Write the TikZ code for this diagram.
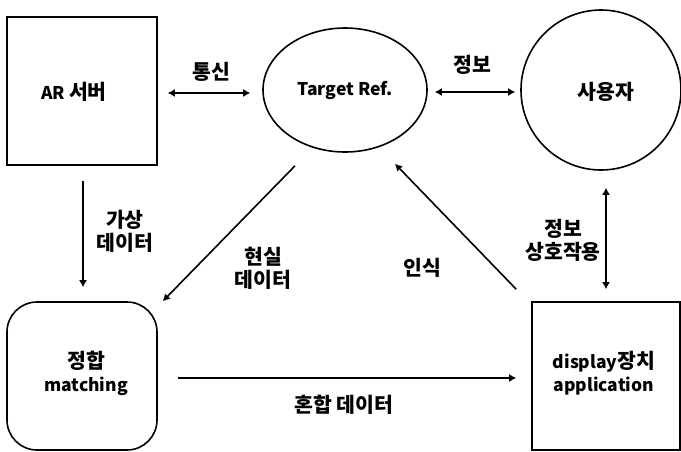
\documentclass[tikz,border=0pt]{standalone}
\usepackage{fontspec}
\setmainfont{Noto Sans CJK KR}
\newfontfamily\kr{Noto Sans CJK KR}[Scale=1.17]
\usetikzlibrary{shapes.geometric,arrows.meta}
\begin{document}
\begin{tikzpicture}[x=1pt,y=-1pt,
  every node/.style={font=\fontsize{17.5}{23}\selectfont\bfseries, align=center, inner sep=0pt},
  shape line/.style={draw=black, line width=1.6pt},
  boxnode/.style={shape line, rectangle, minimum width=150pt, minimum height=148pt},
  roundnode/.style={boxnode, rounded corners=30pt},
  ovalnode/.style={shape line, ellipse, minimum width=164pt, minimum height=124pt},
  roundcircle/.style={shape line, circle, minimum size=160pt},
  arr/.style={line width=1.6pt, -{Latex[length=7pt,width=8pt]}},
  darr/.style={line width=1.6pt, {Latex[length=7pt,width=8pt]}-{Latex[length=7pt,width=8pt]}},
  lbl/.style={}
]
\fill[white] (0,0) rectangle (681,451);
\useasboundingbox (0,0) rectangle (681,451);

% main blocks
\node[boxnode, label={[xshift=-8pt,yshift=-1pt]center:AR {\kr 서버}}] (ar) at (82,91) {};
\node[ovalnode] (target) at (345,90) {Target Ref.};
\node[roundcircle, label={[xshift=5pt,yshift=-2pt]center:{\kr 사용자}}] (user) at (601,90) {};
\node[roundnode, label={[xshift=4pt,yshift=3pt]center:{\kr 정합}\\matching}] (match) at (82,376) {};
\node[boxnode, minimum width=148pt, label={[xshift=-2pt,yshift=3pt]center:display{\kr 장치}\\application}] (disp) at (606,376) {};

% connectors
\draw[darr] ([xshift=10pt,yshift=-2pt]ar.east) -- ([xshift=-12pt,yshift=-3pt]target.west);
\draw[darr] ([xshift=7pt,yshift=-2pt]target.east) -- ([xshift=-5pt,yshift=-2pt]user.west);
\draw[arr] ([xshift=1pt,yshift=-15pt]ar.south) -- ([xshift=1pt,yshift=14pt]match.north);
\draw[arr] ([xshift=-50pt,yshift=-13pt]target.south) -- ([xshift=5pt]match.north east);
\draw[arr] ([xshift=-15pt,yshift=12pt]disp.north west) -- ([xshift=50pt,yshift=-11pt]target.south);
\draw[darr] ([xshift=5pt,yshift=-17pt]user.south) -- ([yshift=12pt]disp.north);
\draw[arr] ([xshift=20pt,yshift=-2pt]match.east) -- ([xshift=-15pt,yshift=-2pt]disp.west);

% connector labels
\node[lbl] (l1) at (211,72) {\kr 통신};
\node[lbl] (l2) at (472,65) {\kr 정보};
\node[lbl] (l3) at (125,231) {\kr 가상\\\kr 데이터};
\node[lbl] (l4) at (263,268) {\kr 현실\\\kr 데이터};
\node[lbl] (l5) at (422,268) {\kr 인식};
\node[lbl] (l6) at (563,240) {\kr 정보\\\kr 상호작용};
\node[lbl] (l7) at (344,405) {\kr 혼합 데이터};
\end{tikzpicture}
\end{document}
